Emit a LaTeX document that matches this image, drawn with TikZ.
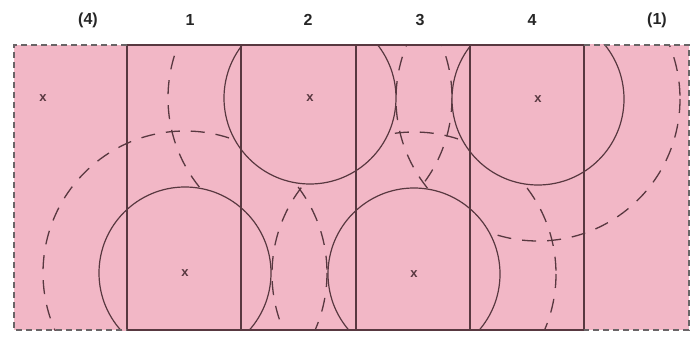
\documentclass[tikz,border=0pt]{standalone}
\usepackage{fontspec}
\setmainfont{Liberation Sans}
\definecolor{pinkfill}{RGB}{242,183,198}
\definecolor{ink}{RGB}{88,56,64}
\definecolor{bordergray}{RGB}{105,100,102}
\tikzset{
  solidline/.style={draw=ink, line width=1.2pt},
  dashcircle/.style={draw=ink, line width=1.3pt, dash pattern=on 14pt off 11pt},
  dashborder/.style={draw=bordergray, line width=1.5pt, dash pattern=on 6pt off 4pt},
  collabel/.style={font=\bfseries\fontsize{16}{18}\selectfont, text=black!85},
  xmark/.style={font=\bfseries\fontsize{13}{13}\selectfont, text=ink, inner sep=0pt}
}
\begin{document}
\begin{tikzpicture}[x=1pt,y=-1pt]
\useasboundingbox (0,0) rectangle (695,339);
% background fill
\fill[pinkfill] (14,45) rectangle (689,330);
% circle centres
\coordinate (A) at (310,98);
\coordinate (B) at (538,99);
\coordinate (C) at (185,273);
\coordinate (D) at (414,274);
\coordinate (L) at (43,98);
% clipped circles: dashed outer circles hidden inside the solid ones
\begin{scope}
  \clip (14,45) rectangle (689,330);
  \begin{scope}
    \clip (14,45) rectangle (689,200);
    \draw[dashcircle] (A) circle[radius=142];
  \end{scope}
  \foreach \c in {B,C,D} {
    \draw[dashcircle] (\c) circle[radius=142];
  }
  \foreach \c in {A,B,C,D} {
    \fill[pinkfill] (\c) circle[radius=86];
  }
  \foreach \c in {A,B,C,D} {
    \draw[solidline] (\c) circle[radius=86];
  }
\end{scope}
% column dividers
\foreach \xx in {127,241,356,470,584} {
  \draw[solidline] (\xx,45) -- (\xx,330);
}
\draw[solidline] (127,45) -- (584,45);
\draw[solidline] (127,330) -- (584,330);
% dashed borders of the repeated columns
\draw[dashborder] (127,45) -- (14,45) -- (14,330) -- (127,330);
\draw[dashborder] (584,45) -- (689,45) -- (689,330) -- (584,330);
% centre marks
\foreach \c in {A,B,C,D,L} {
  \node[xmark] (m\c) at (\c) {x};
}
% column labels
\node[collabel] (l0) at (88,20) {(4)};
\node[collabel] (l1) at (190,20) {1};
\node[collabel] (l2) at (308,20) {2};
\node[collabel] (l3) at (420,20) {3};
\node[collabel] (l4) at (532,20) {4};
\node[collabel] (l5) at (657,20) {(1)};
\end{tikzpicture}
\end{document}
